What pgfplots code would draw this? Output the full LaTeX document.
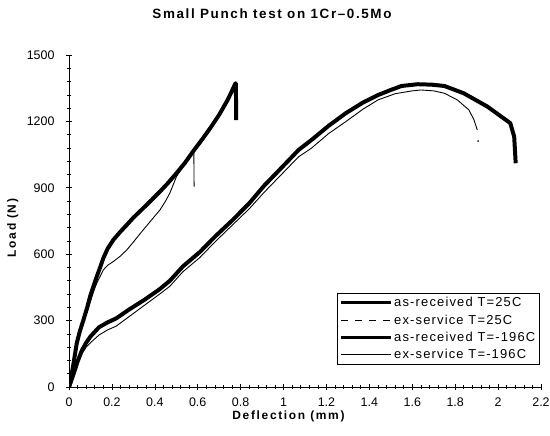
\documentclass[border=0pt]{standalone}
\usepackage{pgfplots}
\pgfplotsset{compat=1.18}
\usepackage{fontspec}
\setmainfont{Liberation Sans}
\newfontfamily\spaced[LetterSpace=12]{Liberation Sans}
\newfontfamily\lspaced[LetterSpace=14]{Liberation Sans}
\newfontfamily\legfont[LetterSpace=9]{Liberation Sans}

\pgfplotstableread{
x y
0 0
0.005 17
0.02 100
0.036 197
0.05 250
0.067 302
0.085 360
0.098 408
0.114 455
0.129 498
0.145 540
0.16 582
0.18 625
0.207 665
0.24 702
0.269 732
0.30 765
0.346 808
0.385 845
0.424 883
0.46 920
0.501 966
0.54 1012
0.578 1064
0.62 1118
0.66 1172
0.70 1230
0.74 1298
0.776 1372
0.778 1372
0.779 1206
}\arlow

\pgfplotstableread{
x y
0 0
0.005 15
0.02 95
0.036 190
0.05 245
0.067 298
0.085 340
0.098 380
0.114 430
0.129 468
0.145 500
0.16 529
0.18 550
0.207 567
0.24 592
0.269 619
0.30 655
0.346 710
0.385 755
0.424 800
0.45 840
0.47 876
0.501 951
0.532 996
0.556 1034
0.57 1050
0.582 1071
0.583 905
}\exlow

\pgfplotstableread{
x y
0 0
0.02 55
0.04 115
0.06 165
0.08 200
0.10 228
0.14 270
0.18 292
0.22 310
0.28 350
0.35 393
0.42 440
0.47 480
0.53 544
0.61 610
0.68 679
0.76 752
0.84 830
0.91 910
0.99 990
1.07 1071
1.13 1116
1.21 1180
1.29 1237
1.37 1285
1.44 1319
1.50 1342
1.55 1360
1.625 1368
1.69 1366
1.75 1360
1.84 1327
1.95 1267
2.00 1232
2.057 1192
2.075 1131
2.082 1011
}\arroom

\pgfplotstableread{
x y
0 0
0.02 50
0.04 105
0.06 150
0.08 180
0.10 200
0.14 235
0.18 258
0.22 275
0.28 318
0.35 368
0.42 418
0.47 455
0.53 520
0.61 585
0.68 655
0.76 730
0.84 805
0.91 880
0.99 960
1.07 1040
1.13 1079
1.21 1145
1.29 1199
1.37 1255
1.44 1297
1.52 1325
1.60 1338
1.64 1342
1.70 1338
1.75 1327
1.81 1297
1.864 1252
1.888 1206
1.903 1161
}\exroom

\begin{document}
\begin{tikzpicture}
\useasboundingbox (-69bp,-49bp) rectangle (481bp,387bp);
\begin{axis}[
  at={(0,0)}, anchor=south west,
  scale only axis, width=472bp, height=332bp,
  xmin=0, xmax=2.2, ymin=0, ymax=1500,
  axis x line=bottom, axis y line=left,
  axis line style={-, line width=0.8pt},
  xtick={0,0.2,...,2.2}, ytick={0,300,...,1500},
  xticklabels={0,0.2,0.4,0.6,0.8,1,1.2,1.4,1.6,1.8,2,2.2},
  /pgf/number format/set thousands separator={},
  minor x tick num=4, minor y tick num=4,
  tick align=center,
  major tick length=6bp, minor tick length=3bp,
  every tick/.style={black, line width=0.6pt},
  /pgf/number format/assume math mode=true,
  ticklabel style={font=\fontsize{12.5}{14}\selectfont},
  xticklabel style={yshift=-4bp},
  yticklabel style={xshift=-8bp},
  xlabel={Deflection (mm)},
  ylabel={Load (N)},
  xlabel style={at={(axis description cs:0.465,-0.09)}, anchor=center, font=\lspaced\bfseries\fontsize{12}{14}\selectfont},
  ylabel style={at={(axis description cs:-0.119,0.479)}, anchor=center, rotate=0, font=\lspaced\bfseries\fontsize{12}{14}\selectfont},
  legend style={at={(rel axis cs:0.996,0.283)}, anchor=north east,
    draw=black, line width=0.6pt, font=\legfont\fontsize{13}{15}\selectfont,
    inner sep=2bp, row sep=2.5bp, cells={anchor=west},
    nodes={inner xsep=1.5bp}},
  legend cell align=left,
  legend image code/.code={\draw[#1] (0bp,0bp) -- (50bp,0bp);},
]
\addplot[black, line width=4pt, line join=round, forget plot] table {\arroom};
\addplot[black, line width=0.9pt, forget plot] table {\exroom};
\addplot[black, line width=4pt, line join=round, forget plot] table {\arlow};
\addplot[black, line width=0.9pt, forget plot] table {\exlow};
\addplot[black, only marks, mark=*, mark size=0.6pt, forget plot] coordinates {(1.907,1111)};
\addlegendimage{black, line width=3pt}
\addlegendentry{as-received T=25C}
\addlegendimage{black, line width=0.6pt, dash pattern=on 7bp off 7bp}
\addlegendentry{ex-service T=25C}
\addlegendimage{black, line width=3pt}
\addlegendentry{as-received T=-196C}
\addlegendimage{black, line width=0.8pt}
\addlegendentry{ex-service T=-196C}
\end{axis}
\node[font=\spaced\bfseries\fontsize{13.5}{16}\selectfont] at (203bp,373bp) {Small Punch test on 1Cr–0.5Mo};
\end{tikzpicture}
\end{document}
